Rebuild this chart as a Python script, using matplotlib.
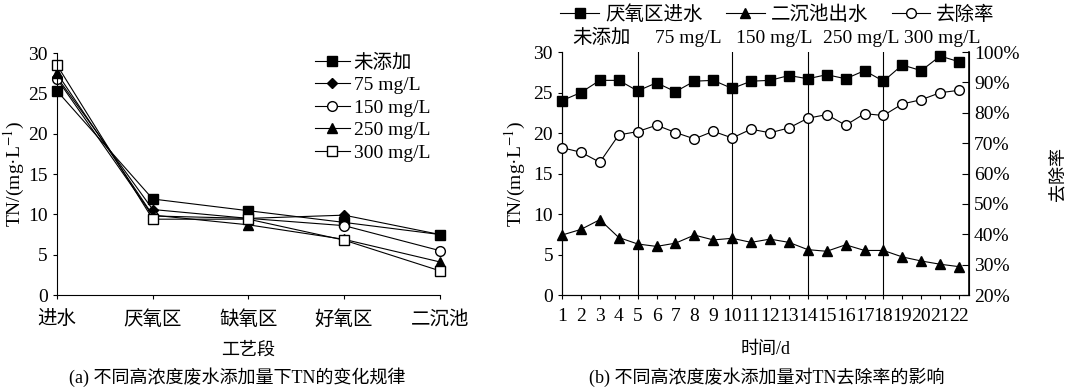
import matplotlib
matplotlib.use("Agg")
import matplotlib.pyplot as plt

plt.rcParams["font.family"] = ["Liberation Serif", "Noto Sans CJK SC"]
plt.rcParams["mathtext.fontset"] = "stix"
plt.rcParams["axes.unicode_minus"] = False

# ---- panel (a): TN along the process stages ----
stages = ["进水", "厌氧区", "缺氧区", "好氧区", "二沉池"]
dose_labels = ["未添加", "75 mg/L", "150 mg/L", "250 mg/L", "300 mg/L"]
tn_none = [25.3, 11.9, 10.45, 9.0, 7.5]
tn_75 = [27.0, 10.6, 9.5, 9.9, 7.5]
tn_150 = [26.8, 9.8, 9.5, 8.6, 5.5]
tn_250 = [27.5, 9.9, 8.7, 6.9, 4.1]
tn_300 = [28.5, 9.4, 9.4, 6.8, 3.0]

# ---- panel (b): daily TN and removal rate ----
days = list(range(1, 23))
tn_in = [24.0, 25.0, 26.5, 26.5, 25.2, 26.2, 25.1, 26.4, 26.5, 25.5, 26.4,
         26.5, 27.1, 26.7, 27.2, 26.7, 27.7, 26.4, 28.4, 27.7, 29.5, 28.8]
tn_out = [7.4, 8.1, 9.3, 7.1, 6.3, 6.0, 6.4, 7.4, 6.8, 7.0, 6.5,
          6.9, 6.5, 5.6, 5.4, 6.2, 5.5, 5.5, 4.7, 4.2, 3.8, 3.5]
removal = [68.5, 67.0, 63.7, 72.7, 73.8, 75.9, 73.5, 71.4, 73.9, 71.7, 74.6,
           73.4, 75.0, 78.2, 79.4, 75.9, 79.7, 79.1, 82.9, 84.3, 86.6, 87.4]
phase_breaks = [5, 10, 14, 18]
phase_names = ["未添加", "75 mg/L", "150 mg/L", "250 mg/L", "300 mg/L"]
phase_x = [3.1, 7.7, 12.2, 16.8, 21.1]

FS = 13
fig = plt.figure(figsize=(10.8, 3.87), dpi=100)

# panel (a)
ax1 = fig.add_axes([0.0528, 0.2377, 0.3545, 0.6253])
xs = range(len(stages))
styles = [
    (tn_none, dict(marker="s", mfc="black", ms=7)),
    (tn_75, dict(marker="D", mfc="black", ms=5)),
    (tn_150, dict(marker="o", mfc="white", ms=7)),
    (tn_250, dict(marker="^", mfc="black", ms=7)),
    (tn_300, dict(marker="s", mfc="white", ms=7)),
]
for (vals, st), lab in zip(styles, dose_labels):
    ax1.plot(xs, vals, color="black", lw=0.8, mec="black", label=lab,
             clip_on=False, **st)
ax1.set_xlim(0, 4)
ax1.set_ylim(0, 30)
ax1.set_yticks(range(0, 31, 5))
ax1.set_xticks(list(xs))
ax1.set_xticklabels(stages)
ax1.spines[["top", "right"]].set_visible(False)
ax1.tick_params(labelsize=FS + 1, direction="out", length=3, width=0.8)
ax1.tick_params(axis="x", pad=8)
ax1.set_xlabel("工艺段", fontsize=FS, labelpad=9)
ax1.set_ylabel("TN/(mg·L$^{-1}$)", fontsize=FS + 1, labelpad=1)
ax1.legend(loc="upper right", bbox_to_anchor=(0.995, 1.03), frameon=False,
           fontsize=FS + 1, handlelength=1.8, handletextpad=0.2,
           labelspacing=0.25, borderaxespad=0)

# panel (b)
ax2 = fig.add_axes([0.5204, 0.2377, 0.3769, 0.6279])
ax3 = ax2.twinx()
l1, = ax2.plot(days, tn_in, color="black", lw=0.8, marker="s", mfc="black",
               mec="black", ms=7, label="厌氧区进水", clip_on=False, zorder=3)
l2, = ax2.plot(days, tn_out, color="black", lw=0.8, marker="^", mfc="black",
               mec="black", ms=7, label="二沉池出水", clip_on=False, zorder=3)
l3, = ax3.plot(days, removal, color="black", lw=0.8, marker="o", mfc="white",
               mec="black", ms=7, label="去除率", clip_on=False, zorder=3)
for d in phase_breaks:
    ax2.axvline(d, color="black", lw=0.8)
ax2.set_xlim(1, 22.53)
ax2.set_ylim(0, 30)
ax2.set_yticks(range(0, 31, 5))
ax2.set_xticks(days)
ax3.set_ylim(20, 100)
ax3.set_yticks(range(20, 101, 10))
ax3.set_yticklabels([f"{v}%" for v in range(20, 101, 10)])
for a in (ax2, ax3):
    a.spines["top"].set_visible(False)
ax2.tick_params(labelsize=FS + 1, direction="out", length=3, width=0.8)
ax2.tick_params(axis="x", pad=6)
ax3.tick_params(labelsize=FS + 1, direction="in", length=5, width=0.8)
ax3.spines["right"].set_linewidth(1.2)
ax2.set_xlabel("时间/d", fontsize=FS, labelpad=12)
ax2.set_ylabel("TN/(mg·L$^{-1}$)", fontsize=FS + 1, labelpad=4)
ax3.set_ylabel("去除率", fontsize=FS, labelpad=22)
for name, x in zip(phase_names, phase_x):
    ax2.text(x, 1.02, name, transform=ax2.get_xaxis_transform(),
             ha="center", va="bottom", fontsize=FS + 1)
fig.legend(handles=[l1, l2, l3], loc="upper center",
           bbox_to_anchor=(0.72, 1.032), ncol=3, frameon=False,
           fontsize=FS + 1, handlelength=2.0, handletextpad=0.3,
           columnspacing=1.2)

# captions
fig.text(0.22, 0.0, "(a) 不同高浓度废水添加量下TN的变化规律", ha="center",
         va="bottom", fontsize=FS)
fig.text(0.71, 0.0, "(b) 不同高浓度废水添加量对TN去除率的影响", ha="center",
         va="bottom", fontsize=FS)

fig.savefig("out.png", dpi=100)
